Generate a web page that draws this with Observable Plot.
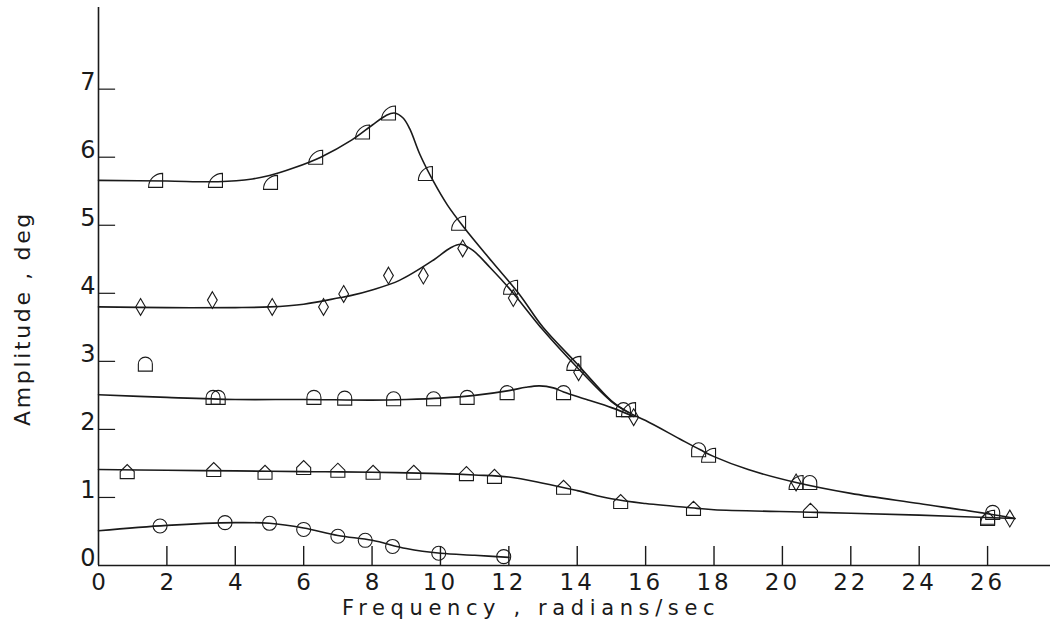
<!DOCTYPE html>
<html>
<head>
<meta charset="utf-8">
<script src="https://cdn.jsdelivr.net/npm/d3@7"></script>
<script src="https://cdn.jsdelivr.net/npm/@observablehq/plot@0.6"></script>
<style>
  html, body { margin: 0; padding: 0; background: #fff; }
</style>
</head>
<body>
<script>
// ---- tick labels ----
const xTickLabels = [0, 2, 4, 6, 8, 10, 12, 14, 16, 18, 20, 22, 24, 26];
const yTickLabels = [0, 1, 2, 3, 4, 5, 6, 7];
const xTitle = "Frequency , radians/sec";
const yTitle = "Amplitude , deg";

// ---- series A (quarter-disc markers) ----
const pointsA = [[1.67,5.66],[3.42,5.66],[5.03,5.63],[6.35,6.0],[7.72,6.37],[8.48,6.65],[9.56,5.76],[10.53,5.03],[12.05,4.09],[13.9,2.97],[15.5,2.29],[17.84,1.62],[20.4,1.22],[26.0,0.71]];
const curveA = [[0,5.66],[2,5.65],[3.5,5.64],[4.5,5.68],[5,5.73],[5.7,5.84],[6.5,6.0],[7.4,6.25],[8,6.47],[8.4,6.61],[8.65,6.65],[8.9,6.58],[9.1,6.42],[9.4,6.04],[9.8,5.64],[10.2,5.3],[10.7,4.96],[11.5,4.47],[12.3,3.99],[13,3.5],[14,2.96],[14.5,2.68],[15,2.42],[15.5,2.25],[16,2.13],[17,1.86],[17.6,1.7],[18,1.6],[19,1.41],[20.4,1.22],[22,1.06],[24,0.91],[26,0.76],[26.8,0.69]];

// ---- series B (diamonds) ----
const pointsB = [[1.23,3.8],[3.33,3.9],[5.08,3.8],[6.58,3.8],[7.17,3.99],[8.48,4.26],[9.5,4.26],[10.65,4.66],[12.13,3.93],[14.04,2.84],[15.65,2.18],[20.4,1.22],[26.65,0.69]];
const curveB = [[0,3.8],[2,3.79],[4,3.79],[5,3.8],[6,3.84],[7,3.93],[7.4,3.97],[8,4.05],[8.8,4.19],[9.8,4.49],[10.3,4.67],[10.6,4.72],[10.95,4.63],[11.45,4.38],[12.05,4.05],[13,3.46],[14,2.91],[15,2.41],[15.5,2.25]];

// ---- series C (arch markers) ----
const pointsC = [[1.37,2.96],[3.35,2.47],[3.5,2.47],[6.3,2.47],[7.2,2.46],[8.63,2.45],[9.8,2.45],[10.78,2.47],[11.95,2.54],[13.6,2.54],[15.35,2.29],[17.55,1.7],[20.8,1.22],[26.15,0.78]];
const curveC = [[0,2.51],[2,2.47],[4,2.44],[6,2.44],[8,2.43],[9,2.44],[10,2.46],[11,2.5],[12,2.57],[12.5,2.62],[12.9,2.64],[13.3,2.61],[13.6,2.55],[14.2,2.45],[15,2.32],[15.65,2.19]];

// ---- series D (house markers) ----
const pointsD = [[0.84,1.38],[3.37,1.41],[4.87,1.37],[6.0,1.44],[7.0,1.4],[8.03,1.37],[9.22,1.37],[10.76,1.35],[11.58,1.31],[13.6,1.15],[15.27,0.94],[17.4,0.84],[20.82,0.81],[26.0,0.69]];
const curveD = [[0,1.41],[2,1.4],[4,1.39],[6,1.38],[8,1.37],[10,1.35],[11,1.33],[12,1.3],[13,1.21],[14,1.1],[15,0.98],[16,0.91],[17.5,0.84],[18,0.82],[21,0.78],[24,0.74],[26.8,0.69]];

// ---- series E (circles) ----
const pointsE = [[1.8,0.58],[3.7,0.63],[5.0,0.62],[6.0,0.53],[7.0,0.43],[7.8,0.37],[8.6,0.28],[9.95,0.18],[11.85,0.13]];
const curveE = [[0,0.51],[2,0.59],[4,0.63],[5,0.62],[6,0.55],[7,0.44],[8,0.37],[9,0.25],[10,0.18],[11,0.15],[12,0.12]];

// ---- custom marker shapes ----
const rad = s => Math.sqrt(s / Math.PI);
const quarterSym = {draw(c, s) { const h = rad(s); c.moveTo(-h, h); c.lineTo(h, h); c.lineTo(h, -h); c.arc(h, h, 2 * h, -Math.PI / 2, Math.PI, true); c.closePath(); }};
const diamondSym = {draw(c, s) { const h = rad(s); c.moveTo(0, -1.2 * h); c.lineTo(0.7 * h, 0); c.lineTo(0, 1.2 * h); c.lineTo(-0.7 * h, 0); c.closePath(); }};
const archSym = {draw(c, s) { const h = rad(s); c.moveTo(-h, h); c.lineTo(-h, 0); c.arc(0, 0, h, Math.PI, 0, false); c.lineTo(h, h); c.closePath(); }};
const houseSym = {draw(c, s) { const h = rad(s); c.moveTo(-h, h); c.lineTo(-h, 0); c.lineTo(0, -h); c.lineTo(h, 0); c.lineTo(h, h); c.closePath(); }};
const circleSym = {draw(c, s) { const h = rad(s); c.moveTo(h, 0); c.arc(0, 0, h, 0, 2 * Math.PI); }};

const ink = "#1a1a1a";
const lineOpts = {x: d => d[0], y: d => d[1], stroke: ink, strokeWidth: 1.6, curve: "catmull-rom"};
const dotOpts = sym => ({x: d => d[0], y: d => d[1], r: 7, symbol: sym, stroke: ink, strokeWidth: 1.1, fill: "none"});

const plot = Plot.plot({
  width: 1050,
  height: 633,
  marginLeft: 98,
  marginRight: 0,
  marginTop: 7,
  marginBottom: 68,
  x: {domain: [0, 27.84], axis: null},
  y: {domain: [0, 8.2], axis: null},
  style: {fontFamily: "DejaVu Sans, sans-serif", background: "#fff", color: ink},
  marks: [
    Plot.ruleX([0], {stroke: ink, strokeWidth: 1.6}),
    Plot.ruleY([0], {stroke: ink, strokeWidth: 1.6}),
    Plot.ruleY(yTickLabels.filter(d => d > 0), {y: d => d, x1: 0, x2: 0.5, stroke: ink, strokeWidth: 1.2}),
    Plot.ruleX(xTickLabels.filter(d => d > 0), {x: d => d, y1: 0, y2: 0.28, stroke: ink, strokeWidth: 1.4}),
    Plot.text(xTickLabels, {x: d => d, y: 0, text: d => String(d), dy: 17, fontSize: 23, lineAnchor: "middle", fill: ink}),
    Plot.text(yTickLabels, {x: 0, y: d => d, text: d => String(d), textAnchor: "end", dx: -3, dy: -7, fontSize: 24, lineAnchor: "middle", fill: ink}),
    Plot.text([xTitle], {x: 12.65, y: 0, text: d => d, dy: 43, fontSize: 21, lineAnchor: "middle", fill: ink}),
    Plot.text([yTitle], {x: -2.22, y: 3.63, text: d => d, rotate: -90, fontSize: 22, lineAnchor: "middle", fill: ink}),
    Plot.line(curveA, lineOpts),
    Plot.line(curveB, lineOpts),
    Plot.line(curveC, lineOpts),
    Plot.line(curveD, lineOpts),
    Plot.line(curveE, lineOpts),
    Plot.dot(pointsA, dotOpts(quarterSym)),
    Plot.dot(pointsB, dotOpts(diamondSym)),
    Plot.dot(pointsC, dotOpts(archSym)),
    Plot.dot(pointsD, dotOpts(houseSym)),
    Plot.dot(pointsE, dotOpts(circleSym))
  ]
});
document.body.appendChild(plot);

// spread the lettering to the widths seen in the original
const texts = Array.from(plot.querySelectorAll("text"));
function fitSpacing(str, target) {
  texts.filter(t => t.textContent === str).forEach(t => {
    let natural = 0;
    try { natural = t.getComputedTextLength(); } catch (e) { natural = 0; }
    if (!(natural > 0)) natural = str.length * 11;
    const ls = Math.max(0, (target - natural) / str.length);
    t.style.letterSpacing = ls.toFixed(2) + "px";
  });
}
fitSpacing(xTitle, 378);
fitSpacing(yTitle, 215);
texts.filter(t => /^\d\d$/.test(t.textContent)).forEach(t => { t.style.letterSpacing = "3px"; });
</script>
</body>
</html>
